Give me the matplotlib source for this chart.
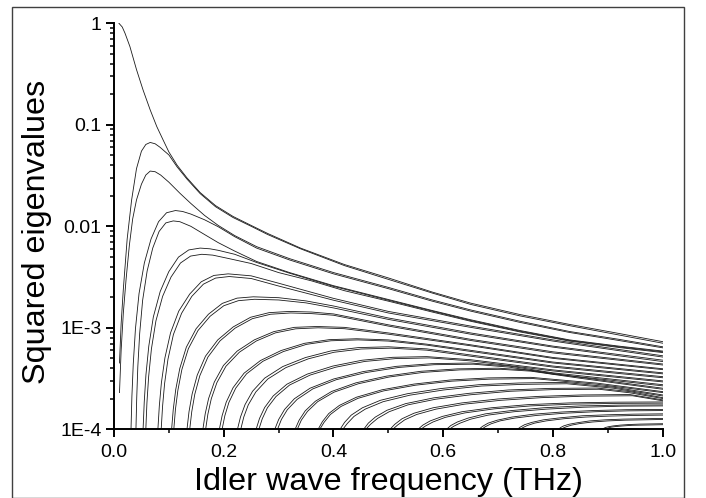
import matplotlib
matplotlib.use("Agg")
import matplotlib.pyplot as plt
from matplotlib.patches import Rectangle
from matplotlib.ticker import LogLocator, MultipleLocator, NullFormatter

plt.rcParams['font.family'] = ['Liberation Sans', 'DejaVu Sans']

# values (x in THz, y squared eigenvalue)
c0_x = [0.009, 0.015, 0.02, 0.029, 0.041, 0.053, 0.066, 0.078, 0.09, 0.1, 0.115, 0.133, 0.157, 0.185, 0.217, 0.25, 0.28, 0.34, 0.42, 0.5, 0.58, 0.65, 0.74, 0.83, 0.92, 1.0]
c0_y = [1.0, 0.92, 0.80, 0.59, 0.35, 0.22, 0.14, 0.096, 0.070, 0.054, 0.040, 0.030, 0.0215, 0.016, 0.0125, 0.0102, 0.0085, 0.0061, 0.0042, 0.0031, 0.00225, 0.00175, 0.00135, 0.00108, 8.8e-4, 7.3e-4]

p1a_x = [0.01, 0.013, 0.017, 0.024, 0.032, 0.041, 0.05, 0.058, 0.066, 0.075, 0.084, 0.092, 0.1, 0.115, 0.133, 0.157, 0.185, 0.217, 0.25, 0.28, 0.34, 0.42, 0.5, 0.58, 0.65, 0.74, 0.83, 0.92, 1.0]
p1a_y = [4.5e-4, 1.1e-3, 2.4e-3, 7.5e-3, 0.018, 0.037, 0.055, 0.064, 0.067, 0.065, 0.060, 0.055, 0.0505, 0.0385, 0.0292, 0.0210, 0.0156, 0.0122, 0.0100, 0.0083, 0.0060, 0.0041, 0.0030, 0.0022, 0.0017, 0.00131, 0.00105, 8.5e-4, 7.05e-4]
p1b_x = [0.01, 0.013, 0.017, 0.022, 0.028, 0.034, 0.041, 0.05, 0.058, 0.066, 0.075, 0.085, 0.1, 0.12, 0.14, 0.165, 0.19, 0.22, 0.26, 0.32, 0.4, 0.5, 0.58, 0.65, 0.74, 0.83, 0.92, 1.0]
p1b_y = [2.3e-4, 6.0e-4, 1.4e-3, 3.0e-3, 6.5e-3, 0.0118, 0.0182, 0.026, 0.032, 0.035, 0.0345, 0.032, 0.0272, 0.0212, 0.0168, 0.0128, 0.0102, 0.0081, 0.0063, 0.0048, 0.0035, 0.0025, 0.00188, 0.0015, 0.00116, 9.2e-4, 7.7e-4, 6.5e-4]

p2a_x = [0.031, 0.0326, 0.0351, 0.0391, 0.0456, 0.0553, 0.0675, 0.0812, 0.0958, 0.112, 0.125, 0.14, 0.165, 0.19, 0.22, 0.26, 0.32, 0.4, 0.5, 0.58, 0.65, 0.74, 0.83, 0.92, 1.0]
p2a_y = [1e-4, 2.1e-4, 4.4e-4, 9.8e-4, 0.00217, 0.00435, 0.0075, 0.0111, 0.0136, 0.0143, 0.0140, 0.0132, 0.0116, 0.0099, 0.0079, 0.0061, 0.00466, 0.0034, 0.00243, 0.00183, 0.00146, 0.00113, 9.0e-4, 7.5e-4, 6.35e-4]
p2b_x = [0.040, 0.0414, 0.0434, 0.0468, 0.0522, 0.0604, 0.0706, 0.0822, 0.0944, 0.108, 0.12, 0.14, 0.165, 0.19, 0.22, 0.26, 0.32, 0.4, 0.5, 0.58, 0.65, 0.74, 0.83, 0.92, 1.0]
p2b_y = [1e-4, 2.03e-4, 4.13e-4, 8.8e-4, 0.00187, 0.00363, 0.0061, 0.0089, 0.0108, 0.0113, 0.0111, 0.0100, 0.0083, 0.0069, 0.0057, 0.0045, 0.0035, 0.0026, 0.0019, 0.00148, 0.0012, 9.4e-4, 7.6e-4, 6.6e-4, 5.9e-4]

p3a_x = [0.053, 0.0551, 0.0582, 0.0634, 0.0717, 0.0842, 0.0998, 0.1175, 0.1362, 0.157, 0.175, 0.19, 0.22, 0.26, 0.32, 0.4, 0.5, 0.58, 0.65, 0.74, 0.83, 0.92, 1.0]
p3a_y = [1e-4, 1.85e-4, 3.44e-4, 6.6e-4, 0.00128, 0.00228, 0.00357, 0.00497, 0.00585, 0.0061, 0.0060, 0.0058, 0.0053, 0.0044, 0.00345, 0.00256, 0.00187, 0.00146, 0.00118, 9.25e-4, 7.5e-4, 6.5e-4, 5.8e-4]
p3b_x = [0.058, 0.060, 0.0631, 0.0682, 0.0764, 0.0886, 0.1039, 0.1212, 0.1396, 0.16, 0.18, 0.21, 0.25, 0.3, 0.36, 0.42, 0.5, 0.58, 0.65, 0.74, 0.83, 0.92, 1.0]
p3b_y = [1e-4, 1.82e-4, 3.29e-4, 6.2e-4, 0.00117, 0.00204, 0.00316, 0.00435, 0.00509, 0.0053, 0.0052, 0.0048, 0.0043, 0.0035, 0.0029, 0.00232, 0.00183, 0.00143, 0.00116, 9.1e-4, 7.4e-4, 6.4e-4, 5.7e-4]

p4a_x = [0.080, 0.0826, 0.0864, 0.0928, 0.103, 0.118, 0.138, 0.159, 0.182, 0.208, 0.25, 0.3, 0.4, 0.5, 0.65, 0.8, 1.0]
p4a_y = [1e-4, 1.70e-4, 2.88e-4, 5.06e-4, 8.9e-4, 1.46e-3, 2.15e-3, 2.84e-3, 3.28e-3, 3.40e-3, 3.25e-3, 2.75e-3, 1.95e-3, 1.45e-3, 1.04e-3, 7.6e-4, 5.3e-4]
p4b_x = [0.086, 0.0885, 0.0922, 0.0984, 0.1083, 0.1232, 0.1418, 0.1629, 0.1852, 0.21, 0.25, 0.3, 0.4, 0.5, 0.65, 0.8, 1.0]
p4b_y = [1e-4, 1.68e-4, 2.82e-4, 4.92e-4, 8.6e-4, 1.39e-3, 2.04e-3, 2.69e-3, 3.09e-3, 3.2e-3, 3.06e-3, 2.58e-3, 1.87e-3, 1.40e-3, 1.01e-3, 7.4e-4, 5.15e-4]

p5a_x = [0.105, 0.108, 0.1125, 0.1199, 0.1318, 0.1497, 0.1721, 0.1974, 0.2242, 0.254, 0.3, 0.35, 0.4, 0.5, 0.65, 0.8, 1.0]
p5a_y = [1e-4, 1.57e-4, 2.46e-4, 3.98e-4, 6.44e-4, 9.8e-4, 1.36e-3, 1.74e-3, 1.96e-3, 2.02e-3, 1.98e-3, 1.84e-3, 1.64e-3, 1.25e-3, 8.9e-4, 6.6e-4, 4.8e-4]
p5b_x = [0.109, 0.1119, 0.1164, 0.1237, 0.1355, 0.1531, 0.1752, 0.2001, 0.2266, 0.256, 0.3, 0.35, 0.4, 0.5, 0.65, 0.8, 1.0]
p5b_y = [1e-4, 1.56e-4, 2.42e-4, 3.88e-4, 6.22e-4, 9.4e-4, 1.30e-3, 1.65e-3, 1.85e-3, 1.91e-3, 1.88e-3, 1.76e-3, 1.57e-3, 1.21e-3, 8.65e-4, 6.45e-4, 4.65e-4]

p6a_x = [0.133, 0.1367, 0.1424, 0.1517, 0.1667, 0.1891, 0.2172, 0.2489, 0.2826, 0.32, 0.36, 0.4, 0.5, 0.65, 0.8, 1.0]
p6a_y = [1e-4, 1.49e-4, 2.23e-4, 3.42e-4, 5.25e-4, 7.6e-4, 1.02e-3, 1.27e-3, 1.41e-3, 1.45e-3, 1.43e-3, 1.37e-3, 1.07e-3, 7.7e-4, 5.8e-4, 4.4e-4]
p6b_x = [0.138, 0.1417, 0.1472, 0.1564, 0.1711, 0.1932, 0.2208, 0.2521, 0.2852, 0.322, 0.36, 0.4, 0.5, 0.65, 0.8, 1.0]
p6b_y = [1e-4, 1.49e-4, 2.21e-4, 3.37e-4, 5.14e-4, 7.43e-4, 9.93e-4, 1.23e-3, 1.36e-3, 1.40e-3, 1.38e-3, 1.33e-3, 1.04e-3, 7.5e-4, 5.65e-4, 4.3e-4]

p7a_x = [0.162, 0.1662, 0.1724, 0.1828, 0.1994, 0.2244, 0.2556, 0.291, 0.3284, 0.37, 0.42, 0.5, 0.65, 0.8, 1.0]
p7a_y = [1e-4, 1.42e-4, 2.01e-4, 2.92e-4, 4.25e-4, 5.89e-4, 7.6e-4, 9.16e-4, 1.01e-3, 1.03e-3, 1.01e-3, 8.9e-4, 6.8e-4, 5.1e-4, 3.95e-4]
p7b_x = [0.167, 0.1711, 0.1773, 0.1875, 0.2039, 0.2285, 0.2593, 0.2941, 0.331, 0.372, 0.42, 0.5, 0.65, 0.8, 1.0]
p7b_y = [1e-4, 1.41e-4, 2.0e-4, 2.88e-4, 4.17e-4, 5.75e-4, 7.41e-4, 8.91e-4, 9.77e-4, 1.0e-3, 9.8e-4, 8.65e-4, 6.65e-4, 5.0e-4, 3.87e-4]

p8a_x = [0.192, 0.197, 0.2045, 0.217, 0.237, 0.267, 0.3045, 0.347, 0.392, 0.442, 0.5, 0.57, 0.65, 0.8, 1.0]
p8a_y = [1e-4, 1.36e-4, 1.85e-4, 2.57e-4, 3.57e-4, 4.76e-4, 5.97e-4, 7.03e-4, 7.64e-4, 7.8e-4, 7.6e-4, 6.9e-4, 6.0e-4, 4.6e-4, 3.6e-4]
p8b_x = [0.197, 0.202, 0.2094, 0.2218, 0.2416, 0.2714, 0.3086, 0.3508, 0.3954, 0.445, 0.5, 0.57, 0.65, 0.8, 1.0]
p8b_y = [1e-4, 1.36e-4, 1.84e-4, 2.54e-4, 3.52e-4, 4.68e-4, 5.83e-4, 6.87e-4, 7.45e-4, 7.6e-4, 7.4e-4, 6.75e-4, 5.85e-4, 4.5e-4, 3.52e-4]

p9a_x = [0.225, 0.2305, 0.2388, 0.2525, 0.2745, 0.3075, 0.3488, 0.3955, 0.445, 0.5, 0.57, 0.65, 0.8, 1.0]
p9a_y = [1e-4, 1.32e-4, 1.75e-4, 2.37e-4, 3.19e-4, 4.15e-4, 5.09e-4, 5.92e-4, 6.38e-4, 6.5e-4, 6.2e-4, 5.4e-4, 4.2e-4, 3.3e-4]
p9b_x = [0.231, 0.2365, 0.2447, 0.2584, 0.2803, 0.3132, 0.3543, 0.4009, 0.4502, 0.505, 0.57, 0.65, 0.8, 1.0]
p9b_y = [1e-4, 1.32e-4, 1.74e-4, 2.33e-4, 3.13e-4, 4.05e-4, 4.95e-4, 5.74e-4, 6.18e-4, 6.3e-4, 6.02e-4, 5.25e-4, 4.1e-4, 3.22e-4]

p10a_x = [0.259, 0.2652, 0.2746, 0.2901, 0.315, 0.3523, 0.399, 0.4518, 0.5078, 0.57, 0.65, 0.8, 1.0]
p10a_y = [1e-4, 1.28e-4, 1.64e-4, 2.13e-4, 2.78e-4, 3.5e-4, 4.2e-4, 4.79e-4, 5.12e-4, 5.2e-4, 4.85e-4, 3.85e-4, 3.0e-4]
p10b_x = [0.264, 0.2702, 0.2796, 0.2951, 0.32, 0.3573, 0.404, 0.4568, 0.5128, 0.575, 0.65, 0.8, 1.0]
p10b_y = [1e-4, 1.27e-4, 1.63e-4, 2.1e-4, 2.73e-4, 3.42e-4, 4.09e-4, 4.66e-4, 4.97e-4, 5.05e-4, 4.72e-4, 3.76e-4, 2.93e-4]

p11a_x = [0.293, 0.3001, 0.3109, 0.3287, 0.3573, 0.4001, 0.4537, 0.5143, 0.5786, 0.65, 0.72, 0.8, 0.9, 1.0]
p11a_y = [1e-4, 1.25e-4, 1.57e-4, 2.0e-4, 2.54e-4, 3.13e-4, 3.7e-4, 4.17e-4, 4.43e-4, 4.5e-4, 4.2e-4, 3.6e-4, 3.15e-4, 2.75e-4]
p11b_x = [0.298, 0.3051, 0.3159, 0.3337, 0.3623, 0.4051, 0.4587, 0.5193, 0.5836, 0.655, 0.72, 0.8, 0.9, 1.0]
p11b_y = [1e-4, 1.25e-4, 1.56e-4, 1.97e-4, 2.5e-4, 3.08e-4, 3.62e-4, 4.07e-4, 4.33e-4, 4.38e-4, 4.1e-4, 3.5e-4, 3.07e-4, 2.68e-4]

p12a_x = [0.33, 0.3374, 0.3485, 0.367, 0.3966, 0.441, 0.4965, 0.5594, 0.626, 0.70, 0.76, 0.85, 1.0]
p12a_y = [1e-4, 1.23e-4, 1.52e-4, 1.89e-4, 2.36e-4, 2.87e-4, 3.34e-4, 3.73e-4, 3.94e-4, 4.0e-4, 3.82e-4, 3.25e-4, 2.54e-4]
p12b_x = [0.334, 0.3414, 0.3526, 0.3711, 0.4008, 0.4453, 0.501, 0.564, 0.6308, 0.705, 0.76, 0.85, 1.0]
p12b_y = [1e-4, 1.23e-4, 1.5e-4, 1.87e-4, 2.32e-4, 2.81e-4, 3.27e-4, 3.64e-4, 3.85e-4, 3.9e-4, 3.74e-4, 3.18e-4, 2.48e-4]

p13a_x = [0.372, 0.3798, 0.3914, 0.4108, 0.4418, 0.4884, 0.5466, 0.6126, 0.6824, 0.76, 0.88, 1.0]
p13a_y = [1e-4, 1.19e-4, 1.43e-4, 1.72e-4, 2.07e-4, 2.45e-4, 2.79e-4, 3.06e-4, 3.21e-4, 3.25e-4, 2.85e-4, 2.35e-4]
p13b_x = [0.375, 0.3828, 0.3944, 0.4138, 0.4448, 0.4914, 0.5496, 0.6156, 0.6854, 0.764, 0.88, 1.0]
p13b_y = [1e-4, 1.17e-4, 1.4e-4, 1.68e-4, 2.02e-4, 2.39e-4, 2.72e-4, 2.98e-4, 3.12e-4, 3.16e-4, 2.78e-4, 2.3e-4]

p14a_x = [0.412, 0.4202, 0.4324, 0.4528, 0.4854, 0.5344, 0.5956, 0.665, 0.7384, 0.82, 0.91, 1.0]
p14a_y = [1e-4, 1.17e-4, 1.38e-4, 1.63e-4, 1.93e-4, 2.24e-4, 2.52e-4, 2.75e-4, 2.86e-4, 2.9e-4, 2.6e-4, 2.18e-4]
p14b_x = [0.417, 0.4252, 0.4374, 0.4578, 0.4904, 0.5394, 0.6006, 0.67, 0.7434, 0.825, 0.91, 1.0]
p14b_y = [1e-4, 1.14e-4, 1.34e-4, 1.58e-4, 1.87e-4, 2.17e-4, 2.44e-4, 2.67e-4, 2.77e-4, 2.81e-4, 2.54e-4, 2.13e-4]

p15a_x = [0.455, 0.4635, 0.4763, 0.4975, 0.5315, 0.5825, 0.6463, 0.7185, 0.795, 0.88, 0.94, 1.0]
p15a_y = [1e-4, 1.15e-4, 1.32e-4, 1.54e-4, 1.79e-4, 2.04e-4, 2.26e-4, 2.44e-4, 2.53e-4, 2.55e-4, 2.35e-4, 2.05e-4]
p15b_x = [0.459, 0.4675, 0.4803, 0.5015, 0.5355, 0.5865, 0.6503, 0.7225, 0.799, 0.884, 0.94, 1.0]
p15b_y = [1e-4, 1.12e-4, 1.28e-4, 1.49e-4, 1.74e-4, 1.98e-4, 2.19e-4, 2.37e-4, 2.46e-4, 2.48e-4, 2.29e-4, 2.01e-4]

p16a_x = [0.503, 0.5117, 0.5249, 0.5467, 0.5817, 0.6341, 0.6997, 0.7739, 0.8526, 0.94, 1.0]
p16a_y = [1e-4, 1.12e-4, 1.27e-4, 1.44e-4, 1.63e-4, 1.82e-4, 1.99e-4, 2.11e-4, 2.18e-4, 2.2e-4, 1.95e-4]
p16b_x = [0.508, 0.5167, 0.5299, 0.5517, 0.5867, 0.6391, 0.7047, 0.7789, 0.8576, 0.945, 1.0]
p16b_y = [1e-4, 1.1e-4, 1.24e-4, 1.4e-4, 1.58e-4, 1.77e-4, 1.93e-4, 2.05e-4, 2.12e-4, 2.14e-4, 1.91e-4]

p17a_x = [0.554, 0.5629, 0.5763, 0.5986, 0.6343, 0.6878, 0.7547, 0.8305, 0.9108, 1.0]
p17a_y = [1e-4, 1.1e-4, 1.21e-4, 1.34e-4, 1.49e-4, 1.63e-4, 1.75e-4, 1.82e-4, 1.85e-4, 1.86e-4]
p17b_x = [0.559, 0.5679, 0.5813, 0.6036, 0.6393, 0.6928, 0.7597, 0.8355, 0.9158, 1.0]
p17b_y = [1e-4, 1.08e-4, 1.18e-4, 1.31e-4, 1.45e-4, 1.59e-4, 1.7e-4, 1.77e-4, 1.8e-4, 1.81e-4]

p18a_x = [0.606, 0.6139, 0.6257, 0.6454, 0.6769, 0.7242, 0.7833, 0.8503, 0.9212, 1.0]
p18a_y = [1e-4, 1.09e-4, 1.18e-4, 1.29e-4, 1.42e-4, 1.53e-4, 1.63e-4, 1.7e-4, 1.73e-4, 1.74e-4]
p18b_x = [0.611, 0.6189, 0.6307, 0.6504, 0.6819, 0.7292, 0.7883, 0.8553, 0.9262, 1.0]
p18b_y = [1e-4, 1.07e-4, 1.15e-4, 1.26e-4, 1.38e-4, 1.49e-4, 1.58e-4, 1.65e-4, 1.69e-4, 1.7e-4]

p19a_x = [0.665, 0.6717, 0.6818, 0.6985, 0.7253, 0.7655, 0.8158, 0.8727, 0.933, 1.0]
p19a_y = [1e-4, 1.07e-4, 1.15e-4, 1.23e-4, 1.32e-4, 1.41e-4, 1.48e-4, 1.53e-4, 1.56e-4, 1.57e-4]
p19b_x = [0.67, 0.6767, 0.6868, 0.7035, 0.7303, 0.7705, 0.8208, 0.8777, 0.938, 1.0]
p19b_y = [1e-4, 1.06e-4, 1.13e-4, 1.21e-4, 1.29e-4, 1.37e-4, 1.44e-4, 1.49e-4, 1.52e-4, 1.53e-4]

p20a_x = [0.735, 0.7403, 0.7483, 0.7615, 0.7827, 0.8145, 0.8543, 0.8993, 0.947, 1.0]
p20a_y = [1e-4, 1.05e-4, 1.11e-4, 1.17e-4, 1.24e-4, 1.3e-4, 1.36e-4, 1.39e-4, 1.41e-4, 1.42e-4]
p20b_x = [0.74, 0.7453, 0.7533, 0.7665, 0.7877, 0.8195, 0.8593, 0.9043, 0.952, 1.0]
p20b_y = [1e-4, 1.04e-4, 1.09e-4, 1.15e-4, 1.21e-4, 1.27e-4, 1.32e-4, 1.35e-4, 1.37e-4, 1.38e-4]

p21a_x = [0.81, 0.8138, 0.8195, 0.829, 0.8442, 0.867, 0.8955, 0.9278, 0.962, 1.0]
p21a_y = [1e-4, 1.04e-4, 1.08e-4, 1.12e-4, 1.16e-4, 1.21e-4, 1.24e-4, 1.26e-4, 1.27e-4, 1.28e-4]
p21b_x = [0.815, 0.8188, 0.8245, 0.834, 0.8492, 0.872, 0.9005, 0.9328, 0.967, 1.0]
p21b_y = [1e-4, 1.03e-4, 1.06e-4, 1.1e-4, 1.14e-4, 1.18e-4, 1.21e-4, 1.23e-4, 1.24e-4, 1.25e-4]

p22a_x = [0.89, 0.8922, 0.8955, 0.901, 0.9098, 0.923, 0.9395, 0.9582, 0.978, 1.0]
p22a_y = [1e-4, 1.02e-4, 1.04e-4, 1.06e-4, 1.08e-4, 1.1e-4, 1.115e-4, 1.125e-4, 1.13e-4, 1.135e-4]
p22b_x = [0.895, 0.8972, 0.9005, 0.906, 0.9148, 0.928, 0.9445, 0.9632, 0.983, 1.0]
p22b_y = [1e-4, 1.01e-4, 1.03e-4, 1.05e-4, 1.065e-4, 1.08e-4, 1.095e-4, 1.1e-4, 1.105e-4, 1.11e-4]

x_ticks = [0.0, 0.2, 0.4, 0.6, 0.8, 1.0]
x_ticklabels = ['0.0', '0.2', '0.4', '0.6', '0.8', '1.0']
y_ticks = [1e-4, 1e-3, 1e-2, 1e-1, 1]
y_ticklabels = ['1E-4', '1E-3', '0.01', '0.1', '1']

curves = [
    (c0_x, c0_y),
    (p1a_x, p1a_y), (p1b_x, p1b_y),
    (p2a_x, p2a_y), (p2b_x, p2b_y),
    (p3a_x, p3a_y), (p3b_x, p3b_y),
    (p4a_x, p4a_y), (p4b_x, p4b_y),
    (p5a_x, p5a_y), (p5b_x, p5b_y),
    (p6a_x, p6a_y), (p6b_x, p6b_y),
    (p7a_x, p7a_y), (p7b_x, p7b_y),
    (p8a_x, p8a_y), (p8b_x, p8b_y),
    (p9a_x, p9a_y), (p9b_x, p9b_y),
    (p10a_x, p10a_y), (p10b_x, p10b_y),
    (p11a_x, p11a_y), (p11b_x, p11b_y),
    (p12a_x, p12a_y), (p12b_x, p12b_y),
    (p13a_x, p13a_y), (p13b_x, p13b_y),
    (p14a_x, p14a_y), (p14b_x, p14b_y),
    (p15a_x, p15a_y), (p15b_x, p15b_y),
    (p16a_x, p16a_y), (p16b_x, p16b_y),
    (p17a_x, p17a_y), (p17b_x, p17b_y),
    (p18a_x, p18a_y), (p18b_x, p18b_y),
    (p19a_x, p19a_y), (p19b_x, p19b_y),
    (p20a_x, p20a_y), (p20b_x, p20b_y),
    (p21a_x, p21a_y), (p21b_x, p21b_y),
    (p22a_x, p22a_y), (p22b_x, p22b_y),
]

W, H = 706, 498
fig = plt.figure(figsize=(W / 100, H / 100), dpi=100)
ax = fig.add_axes([114 / W, 68.7 / H, 548.7 / W, 406 / H])

for x, y in curves:
    ax.plot(x, y, color='#1a1a1a', lw=0.6)

ax.set_yscale('log')
ax.set_xlim(0, 1.0)
ax.set_ylim(1e-4, 1)
ax.set_yticks(y_ticks)
ax.set_yticklabels(y_ticklabels)
ax.yaxis.set_minor_locator(LogLocator(base=10, subs=range(2, 10)))
ax.yaxis.set_minor_formatter(NullFormatter())
ax.set_xticks(x_ticks)
ax.set_xticklabels(x_ticklabels)
ax.xaxis.set_minor_locator(MultipleLocator(0.1))

ax.spines['top'].set_visible(False)
ax.spines['right'].set_visible(False)
for s in ['left', 'bottom']:
    ax.spines[s].set_linewidth(1.4)

ax.tick_params(which='major', direction='out', length=5.5, width=1.4, labelsize=14)
ax.tick_params(which='minor', direction='out', length=3, width=1.1)
ax.tick_params(axis='x', which='major', pad=5)
ax.tick_params(axis='y', which='major', pad=3.5)

ax.set_xlabel('Idler wave frequency (THz)', fontsize=23.3)
ax.set_ylabel('Squared eigenvalues', fontsize=23.3)
ax.xaxis.set_label_coords(0.5, -0.092)
ax.yaxis.set_label_coords(-0.113, 0.487)

# outer frame around the whole picture
fig.patches.append(Rectangle((12 / W, 0), (684 - 12) / W, (H - 7.3) / H,
                             transform=fig.transFigure, fill=False,
                             edgecolor='#404040', lw=1.0))

fig.savefig('out.png', dpi=100)
